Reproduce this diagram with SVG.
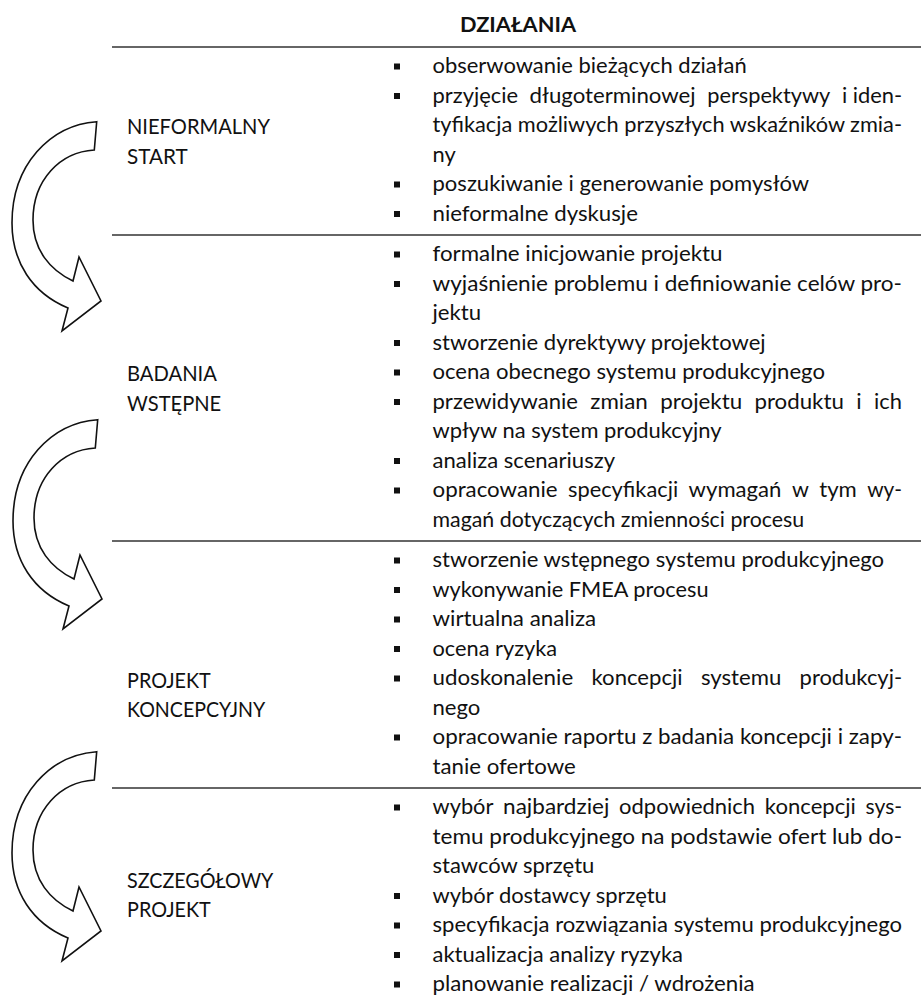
<svg xmlns="http://www.w3.org/2000/svg" width="921" height="1001" viewBox="0 0 921 1001">
  <style>
    .t { font-family: Lato, "Open Sans", "Liberation Sans", sans-serif; font-size: 21.5px; fill: #111; }
    .h { font-family: Lato, "Open Sans", "Liberation Sans", sans-serif; font-size: 21.5px; font-weight: bold; fill: #111; }
    .rule { stroke: #333; stroke-width: 1.6; fill: none; }
    .bul { fill: #111; }
    .arrow { fill: #fff; stroke: #111; stroke-width: 1.6; stroke-linejoin: miter; }
  </style>
  <defs>
    <!-- curved block arrow: tail at top right, bends left and down, head points down-right -->
    <path id="curved" class="arrow" d="M96.7,121.7 C50,125 12,165 12,223 C12,262 32,293 68,308 L62,331 L101,301 L79,257 L73,281 C50,270 33,250 33,220 C33,180 60,152 94.3,150 Z"/>
    <rect id="b" class="bul" width="6" height="6"/>
  </defs>

  <!-- column header -->
  <g id="header">
    <text class="h" x="518" y="32" text-anchor="middle" textLength="116" lengthAdjust="spacingAndGlyphs">DZIAŁANIA</text>
  </g>

  <!-- table rules -->
  <g id="rules">
    <line class="rule" x1="112" y1="47" x2="921" y2="47"/>
    <line class="rule" x1="112" y1="235" x2="921" y2="235"/>
    <line class="rule" x1="112" y1="541" x2="921" y2="541"/>
    <line class="rule" x1="112" y1="788" x2="921" y2="788"/>
  </g>

  <!-- stage 1 -->
  <g id="nieformalny-start">
    <text class="t" x="127" y="134" textLength="143" lengthAdjust="spacingAndGlyphs">NIEFORMALNY</text>
    <text class="t" x="127" y="163.5" textLength="60.6" lengthAdjust="spacingAndGlyphs">START</text>
    <use href="#b" x="394" y="63.5"/>
    <use href="#b" x="394" y="93"/>
    <use href="#b" x="394" y="181.5"/>
    <use href="#b" x="394" y="211"/>
    <text class="t" x="432.5" y="73" textLength="314.2" lengthAdjust="spacingAndGlyphs">obserwowanie bieżących działań</text>
    <text class="t" y="102.5"><tspan x="432.5" textLength="85.5" lengthAdjust="spacingAndGlyphs">przyjęcie</tspan><tspan x="529.6" textLength="166" lengthAdjust="spacingAndGlyphs">długoterminowej</tspan><tspan x="707.2" textLength="123.1" lengthAdjust="spacingAndGlyphs">perspektywy</tspan><tspan x="841.9" textLength="60.2" lengthAdjust="spacingAndGlyphs">i iden-</tspan></text>
    <text class="t" x="432.5" y="132" textLength="469.5" lengthAdjust="spacingAndGlyphs">tyfikacja możliwych przyszłych wskaźników zmia-</text>
    <text class="t" x="432.5" y="161.5" textLength="23.2" lengthAdjust="spacingAndGlyphs">ny</text>
    <text class="t" x="432.5" y="191" textLength="376.6" lengthAdjust="spacingAndGlyphs">poszukiwanie i generowanie pomysłów</text>
    <text class="t" x="432.5" y="220.5" textLength="205.4" lengthAdjust="spacingAndGlyphs">nieformalne dyskusje</text>
  </g>

  <!-- stage 2 -->
  <g id="badania-wstepne">
    <text class="t" x="127" y="381" textLength="89.9" lengthAdjust="spacingAndGlyphs">BADANIA</text>
    <text class="t" x="127" y="410.5" textLength="94.2" lengthAdjust="spacingAndGlyphs">WSTĘPNE</text>
    <use href="#b" x="394" y="251.5"/>
    <use href="#b" x="394" y="281"/>
    <use href="#b" x="394" y="340"/>
    <use href="#b" x="394" y="369.5"/>
    <use href="#b" x="394" y="399"/>
    <use href="#b" x="394" y="458"/>
    <use href="#b" x="394" y="487.5"/>
    <text class="t" x="432.5" y="261" textLength="290" lengthAdjust="spacingAndGlyphs">formalne inicjowanie projektu</text>
    <text class="t" x="432.5" y="290.5" textLength="469.5" lengthAdjust="spacingAndGlyphs">wyjaśnienie problemu i definiowanie celów pro-</text>
    <text class="t" x="432.5" y="320" textLength="48.6" lengthAdjust="spacingAndGlyphs">jektu</text>
    <text class="t" x="432.5" y="349.5" textLength="333.1" lengthAdjust="spacingAndGlyphs">stworzenie dyrektywy projektowej</text>
    <text class="t" x="432.5" y="379" textLength="392.4" lengthAdjust="spacingAndGlyphs">ocena obecnego systemu produkcyjnego</text>
    <text class="t" y="408.5"><tspan x="432.5" textLength="145.4" lengthAdjust="spacingAndGlyphs">przewidywanie</tspan><tspan x="590.3" textLength="57.5" lengthAdjust="spacingAndGlyphs">zmian</tspan><tspan x="660.3" textLength="81.8" lengthAdjust="spacingAndGlyphs">projektu</tspan><tspan x="754.5" textLength="89.3" lengthAdjust="spacingAndGlyphs">produktu</tspan><tspan x="856.2" textLength="5.4" lengthAdjust="spacingAndGlyphs">i</tspan><tspan x="874.1" textLength="27.9" lengthAdjust="spacingAndGlyphs">ich</tspan></text>
    <text class="t" x="432.5" y="438" textLength="289.1" lengthAdjust="spacingAndGlyphs">wpływ na system produkcyjny</text>
    <text class="t" x="432.5" y="467.5" textLength="182.5" lengthAdjust="spacingAndGlyphs">analiza scenariuszy</text>
    <text class="t" y="497"><tspan x="432.5" textLength="125.1" lengthAdjust="spacingAndGlyphs">opracowanie</tspan><tspan x="568" textLength="110.2" lengthAdjust="spacingAndGlyphs">specyfikacji</tspan><tspan x="688.6" textLength="92.9" lengthAdjust="spacingAndGlyphs">wymagań</tspan><tspan x="791.9" textLength="16.9" lengthAdjust="spacingAndGlyphs">w</tspan><tspan x="819.2" textLength="37.6" lengthAdjust="spacingAndGlyphs">tym</tspan><tspan x="867.2" textLength="34.9" lengthAdjust="spacingAndGlyphs">wy-</tspan></text>
    <text class="t" x="432.5" y="526.5" textLength="371.7" lengthAdjust="spacingAndGlyphs">magań dotyczących zmienności procesu</text>
  </g>

  <!-- stage 3 -->
  <g id="projekt-koncepcyjny">
    <text class="t" x="127" y="687.5" textLength="83.8" lengthAdjust="spacingAndGlyphs">PROJEKT</text>
    <text class="t" x="127" y="717" textLength="138.3" lengthAdjust="spacingAndGlyphs">KONCEPCYJNY</text>
    <use href="#b" x="394" y="557.5"/>
    <use href="#b" x="394" y="587"/>
    <use href="#b" x="394" y="616.5"/>
    <use href="#b" x="394" y="646"/>
    <use href="#b" x="394" y="675.5"/>
    <use href="#b" x="394" y="734.5"/>
    <text class="t" x="432.5" y="567" textLength="451.6" lengthAdjust="spacingAndGlyphs">stworzenie wstępnego systemu produkcyjnego</text>
    <text class="t" x="432.5" y="596.5" textLength="276" lengthAdjust="spacingAndGlyphs">wykonywanie FMEA procesu</text>
    <text class="t" x="432.5" y="626" textLength="163.7" lengthAdjust="spacingAndGlyphs">wirtualna analiza</text>
    <text class="t" x="432.5" y="655.5" textLength="124.7" lengthAdjust="spacingAndGlyphs">ocena ryzyka</text>
    <text class="t" y="685"><tspan x="432.5" textLength="140.7" lengthAdjust="spacingAndGlyphs">udoskonalenie</tspan><tspan x="591.5" textLength="91.1" lengthAdjust="spacingAndGlyphs">koncepcji</tspan><tspan x="700.9" textLength="80.4" lengthAdjust="spacingAndGlyphs">systemu</tspan><tspan x="799.6" textLength="102.5" lengthAdjust="spacingAndGlyphs">produkcyj-</tspan></text>
    <text class="t" x="432.5" y="714.5" textLength="47.9" lengthAdjust="spacingAndGlyphs">nego</text>
    <text class="t" x="432.5" y="744" textLength="469.5" lengthAdjust="spacingAndGlyphs">opracowanie raportu z badania koncepcji i zapy-</text>
    <text class="t" x="432.5" y="773.5" textLength="143.3" lengthAdjust="spacingAndGlyphs">tanie ofertowe</text>
  </g>

  <!-- stage 4 -->
  <g id="szczegolowy-projekt">
    <text class="t" x="127" y="887.5" textLength="146.4" lengthAdjust="spacingAndGlyphs">SZCZEGÓŁOWY</text>
    <text class="t" x="127" y="917" textLength="83.8" lengthAdjust="spacingAndGlyphs">PROJEKT</text>
    <use href="#b" x="394" y="804.5"/>
    <use href="#b" x="394" y="893"/>
    <use href="#b" x="394" y="922.5"/>
    <use href="#b" x="394" y="952"/>
    <use href="#b" x="394" y="981.5"/>
    <text class="t" y="814"><tspan x="432.5" textLength="60.9" lengthAdjust="spacingAndGlyphs">wybór</tspan><tspan x="503.1" textLength="106.3" lengthAdjust="spacingAndGlyphs">najbardziej</tspan><tspan x="619.1" textLength="136" lengthAdjust="spacingAndGlyphs">odpowiednich</tspan><tspan x="764.8" textLength="91.1" lengthAdjust="spacingAndGlyphs">koncepcji</tspan><tspan x="865.6" textLength="36.5" lengthAdjust="spacingAndGlyphs">sys-</tspan></text>
    <text class="t" x="432.5" y="843.5" textLength="469.5" lengthAdjust="spacingAndGlyphs">temu produkcyjnego na podstawie ofert lub do-</text>
    <text class="t" x="432.5" y="873" textLength="161.8" lengthAdjust="spacingAndGlyphs">stawców sprzętu</text>
    <text class="t" x="432.5" y="902.5" textLength="234.3" lengthAdjust="spacingAndGlyphs">wybór dostawcy sprzętu</text>
    <text class="t" x="432.5" y="932" textLength="469.5" lengthAdjust="spacingAndGlyphs">specyfikacja rozwiązania systemu produkcyjnego</text>
    <text class="t" x="432.5" y="961.5" textLength="250.5" lengthAdjust="spacingAndGlyphs">aktualizacja analizy ryzyka</text>
    <text class="t" x="432.5" y="991" textLength="322.1" lengthAdjust="spacingAndGlyphs">planowanie realizacji / wdrożenia</text>
  </g>

  <!-- transition arrows between stages -->
  <g id="connectors">
    <use href="#curved"/>
    <use href="#curved" transform="translate(1,298)"/>
    <use href="#curved" transform="translate(0,630)"/>
  </g>
</svg>
